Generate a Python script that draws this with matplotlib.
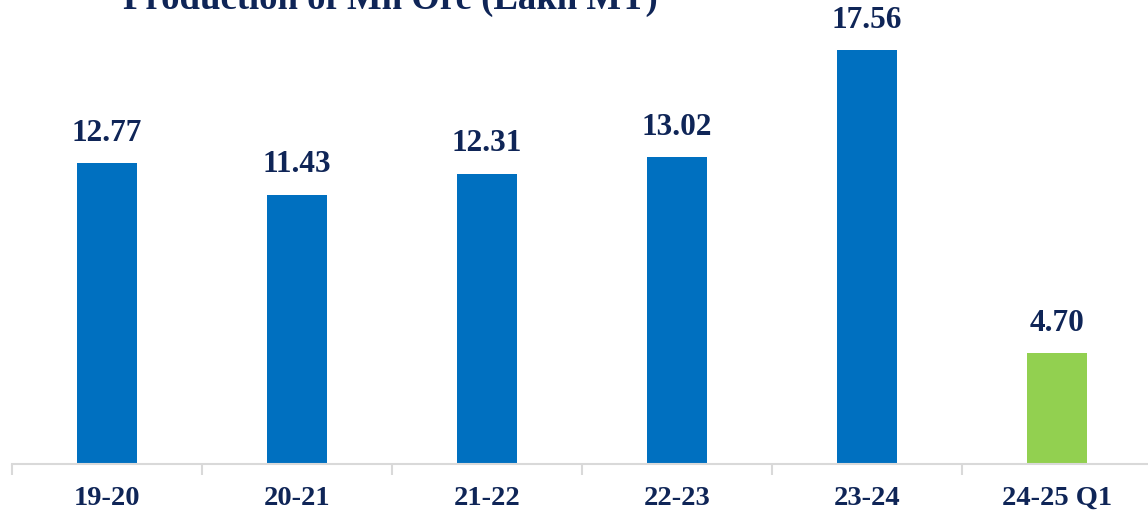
import matplotlib
matplotlib.use("Agg")
import matplotlib.pyplot as plt

categories = ["19-20", "20-21", "21-22", "22-23", "23-24", "24-25 Q1"]
values = [12.77, 11.43, 12.31, 13.02, 17.56, 4.70]
labels = ["12.77", "11.43", "12.31", "13.02", "17.56", "4.70"]
colors = ["#0070C0"] * 5 + ["#92D050"]

navy = "#0F2557"
plt.rcParams["font.family"] = ["Liberation Serif", "DejaVu Serif"]

fig = plt.figure(figsize=(11.48, 5.2), dpi=100)
ax = fig.add_axes([12 / 1148, 56 / 520, 1140 / 1148, 464 / 520])

x = list(range(len(categories)))
bars = ax.bar(x, values, width=0.315, color=colors)

for b, lab in zip(bars, labels):
    ax.annotate(lab, (b.get_x() + b.get_width() / 2, b.get_height()),
                xytext=(0, 11), textcoords="offset points",
                ha="center", va="bottom", fontsize=22.5, fontweight="bold", color=navy)

ax.set_xlim(-0.5, len(categories) - 0.5)
ax.set_ylim(0, 19.68)
ax.set_yticks([])
for s in ["top", "right", "left"]:
    ax.spines[s].set_visible(False)
ax.spines["bottom"].set_color("#D9D9D9")
ax.spines["bottom"].set_linewidth(1.5)

# category boundaries as ticks, names centred under bars
ax.set_xticks([i - 0.5 for i in range(len(categories) + 1)], minor=False)
ax.set_xticklabels([])
ax.tick_params(axis="x", length=8, width=1.5, color="#D9D9D9")
ax.set_xticks(x, minor=True)
ax.set_xticklabels(categories, minor=True, fontsize=20.5, fontweight="bold", color=navy)
ax.tick_params(axis="x", which="minor", length=0, pad=16)

fig.text(390 / 1148, 1 - 9 / 520, "Production of Mn Ore (Lakh MT)", ha="center", va="baseline",
         fontsize=26.5, fontweight="bold", color=navy)

fig.savefig("out.png", dpi=100)
